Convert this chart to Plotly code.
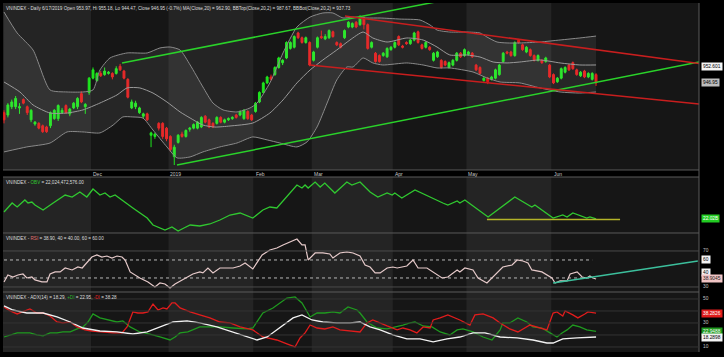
import plotly.graph_objects as go

# ---------------- data ----------------
opens = [922, 920, 927, 927, 926, 933, 927, 916, 912.5, 913, 911, 910, 911, 917, 917, 922, 928, 921, 926, 927,
         938, 927, 939, 951, 949, 955, 954, 955, 955, 955, 961, 957, 950, 926, 927, 922, 919, 921, 903, 902,
         913, 913, 909, 902, 885, 897, 904, 902, 908, 909, 909, 910, 919, 916, 913, 913, 918, 914, 916, 917,
         920, 920, 917, 923, 920, 923, 931, 939, 947, 952, 954, 960, 964, 968, 976, 977, 989, 985, 981, 981,
         966, 977, 986, 984, 985, 990, 981, 980, 985, 994, 994, 998, 996, 1002, 996, 977, 972, 970, 970, 969,
         975, 977, 986, 978, 981, 980, 983, 990, 979, 977, 977, 966, 969, 966, 965, 960, 962, 966, 972, 970,
         971, 972, 962, 960, 949, 951, 950, 951, 954, 965, 973, 973, 970, 983, 979, 973, 975, 970, 966, 966,
         965, 962, 954, 948, 951, 956, 962, 964, 958, 953, 957, 952, 950, 953.97]
highs = [924, 930, 933, 936, 930, 934, 928, 925, 915, 914, 912, 911, 923, 925, 929, 926, 929, 926, 931, 935,
         940, 930, 952, 960, 956, 957, 960, 957, 956, 961, 963, 958, 951, 933, 932, 927, 922, 922, 906, 905,
         914, 914, 910, 903, 895, 904, 906, 908, 910, 913, 915, 919, 920, 917, 914, 919, 919, 917, 918, 919,
         921, 924, 925, 924, 921, 931, 940, 948, 953, 954, 961, 969, 967, 982, 982, 987, 990, 986, 986, 982,
         974, 986, 991, 988, 992, 991, 982, 981, 992, 999, 998, 999, 1004, 1003, 997, 982, 973, 971, 973, 977,
         978, 982, 987, 979, 982, 984, 990, 991, 980, 982, 978, 973, 974, 967, 966, 965, 967, 973, 973, 976,
         974, 973, 963, 961, 952, 952, 953, 959, 963, 973, 974, 974, 982, 984, 980, 978, 976, 971, 971, 967,
         969, 963, 955, 952, 960, 961, 963, 965, 959, 957, 958, 956, 956, 955.18]
lows = [913, 918, 925, 925, 921, 929, 920, 914, 911, 908, 905, 905, 909, 916, 915, 921, 921, 919, 925, 925,
        930, 921, 937, 950, 948, 952, 953, 954, 950, 954, 957, 950, 934, 925, 925, 921, 917, 915, 893, 900,
        907, 900, 898, 889, 878, 896, 901, 901, 906, 908, 908, 909, 913, 909, 909, 912, 913, 913, 915, 916,
        917, 919, 916, 916, 915, 922, 930, 938, 946, 949, 953, 959, 962, 967, 975, 976, 984, 980, 980, 961,
        965, 976, 984, 983, 984, 985, 978, 976, 984, 993, 993, 993, 995, 992, 975, 976, 964, 964, 969, 968,
        974, 976, 978, 976, 979, 979, 982, 980, 975, 976, 974, 965, 968, 959, 961, 959, 961, 965, 968, 969,
        970, 968, 957, 954, 948, 946, 949, 950, 953, 964, 971, 969, 969, 980, 974, 972, 969, 965, 965, 963,
        964, 951, 946, 947, 950, 955, 957, 958, 953, 952, 951, 951, 949, 944.47]
closes = [916, 928.5, 931, 934, 927, 930, 922, 924, 914, 909, 906, 906, 922, 924, 928, 924, 922, 925, 930, 934,
          931, 929, 951, 958, 955, 953, 957, 956, 952, 959, 958, 951, 935, 931, 930, 926, 921, 916, 905, 904,
          909, 902, 900, 891, 893, 903, 902, 907, 909, 912, 914, 918, 914, 910, 910, 918, 914, 916, 917, 918,
          918, 923, 924, 917, 916, 930, 939, 947, 952, 950, 960, 968, 966, 981, 981, 986, 985, 981, 985, 962,
          973, 985, 985, 986, 991, 986, 979, 977, 991, 998, 997, 994, 1002, 996, 976, 981, 965, 965, 972, 976,
          977, 981, 979, 977, 980, 983, 989, 981, 976, 981, 975, 972, 973, 960, 962, 964, 966, 972, 969, 975,
          973, 969, 958, 955, 951, 948, 952, 958, 962, 972, 972, 970, 981, 981, 975, 977, 970, 966, 970, 964,
          968, 952, 947, 951, 959, 960, 958, 959, 954, 956, 952, 955, 955, 946.95]
bar_idx = list(range(len(closes)))

# Bollinger bands
bb_up_x = [0, 3.4, 7.5, 11.9, 16.3, 20.4, 23, 24.8, 27.4, 31.8, 37, 40.3, 42.9, 45.5, 48.1, 51.4, 54, 56.6, 60.2,
           63.6, 65.4, 68.7, 72.1, 75.7, 79.1, 82.4, 85, 87.6, 90.2, 93.8, 97.2, 102.3, 107.5, 110.1, 111.9,
           115.2, 119.6, 123, 124.8, 127.4, 130, 133.3, 138.5, 143.7, 148.8, 153]
bb_up_y = [1006.6, 989.0, 974.7, 941.1, 939.4, 939.4, 941.1, 957.9, 968.0, 972.2, 972.2, 976.4, 977.2, 974.7,
           962.1, 943.6, 930.1, 924.3, 922.6, 926.0, 930.1, 947.0, 972.2, 994.0, 1002.4, 1005.8, 1005.8, 1001.6,
           1002.4, 1001.6, 1001.6, 1000.7, 999.9, 995.7, 991.5, 989.8, 989.8, 989.0, 985.6, 981.4, 980.6, 980.6,
           981.4, 983.1, 984.8, 986.4]
bb_mid_x = [0, 4.1, 7.5, 11.9, 16.3, 20.4, 24.8, 29.2, 31.8, 35.1, 38.5, 42.1, 45.5, 48.1, 51.4, 54.5, 58.4, 64.3,
            68.7, 72.1, 75.7, 79.1, 82.4, 86, 89.4, 92.8, 95.3, 99, 104.1, 108.3, 111.9, 115.2, 119.6, 123,
            126.4, 130, 133.3, 138.5, 143.7, 148.8, 153]
bb_mid_y = [947.8, 939.4, 928.5, 921.7, 921.7, 924.3, 930.1, 936.9, 942.8, 942.8, 938.5, 931.0, 922.6, 917.5,
            911.6, 909.9, 910.8, 913.3, 921.7, 932.7, 947.0, 957.9, 966.3, 974.7, 983.1, 989.8, 984.8, 981.4,
            984.8, 983.1, 977.2, 970.5, 970.5, 968.8, 964.6, 963.8, 964.6, 966.3, 963.8, 962.1, 962.1]
bb_low_x = [0, 5.9, 11.9, 16.3, 20.4, 24.8, 28.2, 30.7, 33.3, 35.9, 38.5, 42.1, 44.7, 48.1, 51.4, 55.8, 60.2,
            64.3, 68, 71.3, 75.7, 78.3, 80.9, 83.5, 86, 88.6, 90.2, 92.8, 95.3, 97.9, 104.1, 108.3, 111.9, 115.2,
            121.2, 124.8, 128.2, 133.3, 138.5, 143.7, 148.8, 153]
bb_low_y = [889.0, 893.2, 896.5, 905.8, 905.8, 905.0, 911.6, 918.4, 918.4, 917.5, 907.4, 893.2, 884.0, 884.8,
            889.0, 893.2, 896.5, 901.6, 899.1, 896.5, 893.2, 897.4, 910.0, 930.1, 949.5, 960.4, 960.4, 968.0,
            963.8, 962.1, 963.8, 962.1, 959.6, 959.6, 956.2, 951.2, 947.8, 947.0, 942.8, 939.4, 938.5, 939.4]

# trend channels (start / end points)
green_up_x, green_up_y = [30.5, 111.4], [963.8, 1015.0]
green_low_x, green_low_y = [44.7, 179.6], [878.0, 964.6]
red_up_x, red_up_y = [88.1, 179.6], [1003.3, 963.3]
red_low_x, red_low_y = [79.0, 179.6], [962.1, 929.3]

# OBV (billions)
obv_x = [0, 2.1, 3.4, 5.4, 6.2, 7.2, 8, 10.1, 12.7, 15.8, 17.6, 19.6, 21.4, 23, 24.8, 26.1, 27.4, 28.7, 33.3, 37,
         38.5, 41.6, 43.4, 45, 46.5, 48.1, 50.6, 53.2, 55.8, 58.4, 61, 64.3, 66.9, 68.7, 70.5, 73.1, 75.7, 77,
         77.8, 78.6, 80.4, 81.7, 82.9, 85.5, 88.6, 89.9, 92, 94.6, 96.6, 99, 100.3, 101, 102.8, 106.2, 108.8,
         113.4, 114.7, 117.1, 117.8, 119.1, 125.1, 132, 136.4, 137.2, 141.9, 144.4, 145.5, 147, 150.6, 151.4, 153]
obv_y = [22.72, 23.62, 23.22, 23.92, 23.62, 23.72, 23.42, 22.92, 23.62, 24.42, 24.22, 24.72, 24.22, 25.02, 24.42,
         24.62, 24.22, 24.42, 23.12, 22.12, 21.42, 20.92, 21.22, 20.82, 21.12, 21.42, 21.32, 21.52, 21.92, 22.42,
         22.62, 22.12, 22.92, 23.22, 23.12, 24.22, 25.42, 25.12, 25.42, 25.12, 25.72, 25.22, 25.62, 24.62, 25.72,
         25.42, 25.72, 24.72, 24.22, 24.62, 24.42, 24.62, 24.12, 24.92, 24.42, 23.62, 23.42, 23.82, 23.62, 23.92,
         22.22, 24.22, 23.22, 23.42, 22.12, 22.42, 22.22, 22.62, 22.12, 22.22, 22.02]
obv_support_x, obv_support_y = [124.8, 159.2], [21.97, 21.97]

# RSI(14)
rsi_x = [0, 1, 2.3, 3.6, 4.9, 5.9, 7.2, 8, 9.8, 11.1, 11.9, 13.2, 14.5, 15.8, 17.6, 19.1, 20.2, 21.4, 22.7, 24,
         25.3, 26.6, 27.9, 29.2, 30.5, 31.3, 32.6, 35.1, 37.2, 39, 40.3, 41.6, 42.9, 44.2, 46, 47.3, 48.8, 50.6,
         51.4, 52.7, 54, 55.8, 57.6, 59.2, 61, 62.3, 64.3, 66.7, 68.7, 70.5, 72.1, 73.9, 75.7, 77, 77.8, 78.6,
         80.4, 82.4, 84.2, 85, 86.8, 88.6, 90.2, 92, 93.3, 94.6, 95.9, 97.2, 99, 100.5, 101.6, 104.1, 105.7, 107,
         109.3, 113.2, 114.7, 117.1, 117.8, 119.1, 121.2, 122.5, 124.8, 128.9, 131.3, 132.6, 134.1, 135.4, 136.4,
         139, 141.6, 142.4, 143.7, 145.5, 146.3, 148.1, 149.4, 150.6, 151.4, 152.2, 153]
rsi_y = [35.6, 43.3, 41.1, 43.3, 44.4, 40.0, 41.1, 37.8, 35.6, 35.6, 44.4, 46.7, 46.7, 51.1, 48.9, 52.2, 51.1,
         56.7, 63.3, 65.6, 63.3, 64.4, 62.2, 64.4, 63.3, 60.0, 46.7, 40.0, 35.6, 30.0, 34.4, 33.3, 28.9, 33.3,
         37.8, 41.1, 44.4, 46.7, 45.6, 51.1, 45.6, 51.1, 51.1, 51.1, 53.3, 56.7, 50.0, 65.6, 71.1, 73.3, 76.7,
         80.0, 83.3, 76.7, 76.7, 60.0, 67.8, 67.8, 66.7, 62.2, 67.8, 68.9, 67.8, 64.4, 54.4, 52.2, 45.6, 45.6,
         51.1, 52.2, 51.1, 53.3, 60.0, 51.1, 51.1, 40.0, 41.1, 48.9, 46.7, 51.1, 48.9, 40.0, 34.4, 52.2, 54.4,
         60.0, 58.9, 56.7, 48.9, 46.7, 40.0, 34.4, 36.7, 36.7, 44.4, 46.7, 41.1, 40.0, 42.2, 40.0, 38.9]
rsi_levels = [40, 60]
rsi_trend_x, rsi_trend_y = [141.9, 179.3], [34.4, 58.9]

# ADX(14), +DI, -DI
mdi_x = [0, 1.6, 3.4, 4.9, 6.7, 8.5, 10.1, 11.9, 13.7, 15.2, 17.1, 18.9, 20.9, 22.7, 24.8, 26.6, 28.2, 30.5, 31.8,
         33.3, 34.6, 35.9, 37.2, 38.5, 39.8, 41.1, 42.1, 43.4, 44.2, 45.5, 48.1, 50.6, 53.2, 55.8, 58.4, 61, 64.3,
         66.9, 70.5, 73.1, 75.2, 76.5, 77.8, 79.1, 80.9, 82.9, 85, 86.8, 89.4, 92, 93.8, 95.3, 99, 101.6, 103.1,
         104.9, 106.7, 108.3, 110.1, 110.9, 112.7, 114.7, 117.8, 120.4, 121.7, 123.8, 126.4, 128.2, 130.7, 132.8,
         135.9, 138.5, 140.3, 141.9, 142.9, 144.4, 145, 147, 148.3, 150.1, 150.9, 153]
mdi_y = [43.3, 40.0, 37.5, 39.2, 41.7, 38.3, 38.3, 35.8, 30.8, 30.0, 30.8, 26.7, 24.2, 23.3, 22.5, 21.7, 21.7, 21.7,
         26.7, 39.2, 38.3, 38.3, 39.2, 45.8, 40.8, 42.5, 41.7, 46.7, 46.7, 42.5, 39.2, 36.7, 34.2, 30.8, 30.0, 26.7,
         24.2, 18.3, 15.8, 12.5, 10.0, 17.5, 21.7, 28.3, 25.8, 25.0, 26.7, 24.2, 23.3, 22.5, 30.0, 32.5, 27.5, 24.2,
         25.8, 24.2, 21.7, 26.7, 25.8, 32.5, 34.2, 36.7, 32.5, 28.3, 36.7, 37.5, 34.2, 30.0, 25.0, 22.5, 28.3, 25.8,
         24.2, 38.3, 39.2, 35.8, 40.0, 36.7, 34.2, 37.5, 39.2, 38.28]
pdi_x = [0, 1.6, 3.4, 4.9, 6.7, 8.5, 10.1, 11.9, 13.7, 15.2, 17.1, 18.9, 20.4, 21.7, 23, 24.8, 27.4, 29.2, 30.7,
         32.6, 35.1, 37.7, 40.3, 42.9, 44.2, 45.5, 47.5, 50.6, 53.2, 55.8, 59.2, 62.8, 64.3, 66.9, 69.5, 71.3,
         73.1, 75.2, 77, 79.1, 80.9, 82.9, 85, 86.8, 88.9, 91.2, 92, 93.8, 96.4, 99, 101.6, 103.1, 104.9, 106.2,
         108.3, 110.6, 112.7, 115.2, 117.1, 118.6, 121.2, 123.8, 126.1, 128.2, 128.9, 130.7, 132.8, 135.1, 136.7,
         139, 141.1, 142.9, 144.2, 145.5, 147, 148.8, 150.6, 153]
pdi_y = [18.3, 20.0, 21.7, 21.7, 21.7, 20.0, 19.2, 21.7, 21.7, 22.5, 22.5, 25.0, 26.7, 30.8, 37.5, 34.2, 32.5, 30.8,
         31.7, 26.7, 22.5, 20.8, 18.3, 15.8, 18.3, 21.7, 22.5, 26.7, 26.7, 26.7, 25.8, 25.0, 25.8, 38.3, 42.5, 46.7,
         50.8, 51.7, 46.7, 35.0, 38.3, 38.3, 39.2, 38.3, 43.3, 40.8, 38.3, 30.8, 25.8, 25.0, 26.7, 28.3, 30.0, 30.8,
         27.5, 26.7, 22.5, 20.0, 24.2, 25.0, 22.5, 18.3, 15.8, 24.2, 30.0, 30.0, 34.2, 30.8, 26.7, 25.8, 21.7, 18.3,
         21.7, 24.2, 28.3, 26.7, 24.2, 22.95]
adx_x = [0, 2.3, 5.9, 10.1, 13.7, 17.1, 20.4, 24.8, 29.2, 33.3, 37, 40.3, 43.7, 47.3, 50.6, 55, 59.2, 62.8, 65.4, 68,
         71.3, 74.7, 77, 79.6, 82.4, 86, 89.4, 92, 94.6, 97.2, 100.5, 104.1, 107.5, 110.9, 114.5, 117.8, 121.2,
         124.3, 128.2, 132.6, 136.7, 140.3, 141.9, 144.4, 148.1, 153]
adx_y = [44.2, 40.8, 38.3, 38.3, 35.0, 30.8, 25.8, 23.3, 22.5, 20.8, 22.5, 26.7, 30.8, 31.7, 30.0, 26.7, 22.5, 18.3,
         15.8, 18.3, 25.8, 34.2, 36.7, 32.5, 30.8, 30.0, 30.0, 30.8, 26.7, 24.2, 20.0, 16.7, 16.7, 14.2, 16.7, 18.3,
         21.7, 21.7, 18.3, 17.5, 15.8, 13.3, 13.3, 16.7, 17.5, 18.29]
adx_grid = [10, 20, 30, 40, 50]

months = ["Dec", "2019", "Feb", "Mar", "Apr", "May", "Jun"]
month_starts = [23, 43, 65, 80, 101, 120, 142]

# ---------------- figure ----------------
X_RANGE = [-0.26, 179.6]
D_PRICE = [0.5215, 1.0]
D_OBV = [0.341, 0.5014]
D_RSI = [0.1719, 0.341]
D_ADX = [0.0, 0.1719]

fig = go.Figure()

# Bollinger bands
fig.add_trace(go.Scatter(x=bb_up_x, y=bb_up_y, mode="lines", line=dict(color="#8a8a8a", width=1, shape="spline", smoothing=0.6),
                         hoverinfo="skip", yaxis="y"))
fig.add_trace(go.Scatter(x=bb_low_x, y=bb_low_y, mode="lines", line=dict(color="#8a8a8a", width=1, shape="spline", smoothing=0.6),
                         fill="tonexty", fillcolor="rgba(255,255,255,0.07)", hoverinfo="skip", yaxis="y"))
fig.add_trace(go.Scatter(x=bb_mid_x, y=bb_mid_y, mode="lines", line=dict(color="#9a9a9a", width=1, shape="spline", smoothing=0.6),
                         hoverinfo="skip", yaxis="y"))

# channels
for cx, cy, col in [(green_up_x, green_up_y, "#2ad22a"), (green_low_x, green_low_y, "#2ad22a"),
                    (red_up_x, red_up_y, "#c81e1e"), (red_low_x, red_low_y, "#c81e1e")]:
    fig.add_trace(go.Scatter(x=cx, y=cy, mode="lines", line=dict(color=col, width=1.5), hoverinfo="skip", yaxis="y"))

# candles
fig.add_trace(go.Candlestick(x=bar_idx, open=opens, high=highs, low=lows, close=closes,
                             increasing=dict(line=dict(color="#1ee61e", width=1), fillcolor="#1ee61e"),
                             decreasing=dict(line=dict(color="#e61a1a", width=1), fillcolor="#e61a1a"),
                             whiskerwidth=0, yaxis="y"))

# OBV
fig.add_trace(go.Scatter(x=obv_x, y=obv_y, mode="lines", line=dict(color="#30c830", width=1.3), yaxis="y2"))
fig.add_trace(go.Scatter(x=obv_support_x, y=obv_support_y, mode="lines", line=dict(color="#b4b428", width=1.5),
                         yaxis="y2"))

# RSI
for lv in rsi_levels:
    fig.add_trace(go.Scatter(x=[0, 152], y=[lv, lv], mode="lines", line=dict(color="#b8b8b8", width=1, dash="dot"),
                             yaxis="y3"))
fig.add_trace(go.Scatter(x=rsi_x, y=rsi_y, mode="lines", line=dict(color="#e6caca", width=1.2), yaxis="y3"))
fig.add_trace(go.Scatter(x=rsi_trend_x, y=rsi_trend_y, mode="lines", line=dict(color="#3cbf9c", width=1.5), yaxis="y3"))

# ADX
fig.add_trace(go.Scatter(x=pdi_x, y=pdi_y, mode="lines", line=dict(color="#1f9a1f", width=1.3), yaxis="y4"))
fig.add_trace(go.Scatter(x=mdi_x, y=mdi_y, mode="lines", line=dict(color="#e01c1c", width=1.3), yaxis="y4"))
fig.add_trace(go.Scatter(x=adx_x, y=adx_y, mode="lines", line=dict(color="#f2f2f2", width=1.3), yaxis="y4"))

shapes = []
# month shading
bounds = [X_RANGE[0]] + [m - 0.5 for m in month_starts] + [X_RANGE[1]]
for k in range(len(bounds) - 1):
    col = "#242424" if k % 2 == 0 else "#161616"
    for d in (D_PRICE, [D_ADX[0], D_OBV[1]]):
        shapes.append(dict(type="rect", xref="x", yref="paper", x0=bounds[k], x1=bounds[k + 1], y0=d[0], y1=d[1],
                           fillcolor=col, line=dict(width=0), layer="below"))
# pane separators
for yy in [D_PRICE[0], D_OBV[1], D_OBV[0], D_RSI[0]]:
    shapes.append(dict(type="line", xref="paper", yref="paper", x0=0, x1=1, y0=yy, y1=yy,
                       line=dict(color="#5a5a5a", width=1)))
shapes.append(dict(type="line", xref="paper", yref="paper", x0=1, x1=1, y0=0, y1=1,
                   line=dict(color="#5a5a5a", width=1)))
# RSI 70/30 lines
for lv in [70, 30]:
    shapes.append(dict(type="line", xref="paper", yref="y3", x0=0, x1=1, y0=lv, y1=lv,
                       line=dict(color="#4a4a4a", width=1)))
for lv in adx_grid:
    shapes.append(dict(type="line", xref="paper", yref="y4", x0=0, x1=1, y0=lv, y1=lv,
                       line=dict(color="#333333", width=1)))

FONT = "Arial"
ann = []
def title(text, ytop):
    ann.append(dict(text=text, xref="paper", yref="paper", x=0, y=ytop, xanchor="left", yanchor="top",
                    showarrow=False, font=dict(family=FONT, size=4.6, color="#dcdcdc"), xshift=1, yshift=-1))

title("VNINDEX - Daily 6/17/2019 Open 953.97, Hi 955.18, Lo 944.47, Close 946.95 (-0.7%) MA(Close,20) = 962.90, "
      "BBTop(Close,20,2) = 987.67, BBBot(Close,20,2) = 937.73", D_PRICE[1])
title("VNINDEX - <span style='color:#30c830'>OBV</span> = 22,024,472,576.00", D_OBV[1])
title("VNINDEX - <span style='color:#e07070'>RSI</span> = 38.90, 40 = 40.00, 60 = 60.00", D_RSI[1])
title("VNINDEX - ADX(14) = 18.29, <span style='color:#2ab02a'>+DI</span> = 22.95, "
      "<span style='color:#e02020'>-DI</span> = 38.28", D_ADX[1])

for m, s in zip(months, month_starts):
    ann.append(dict(text=m, xref="x", yref="paper", x=s - 0.5, y=(D_PRICE[0] + D_OBV[1]) / 2, xanchor="left",
                    yanchor="middle", showarrow=False, font=dict(family=FONT, size=5, color="#c8c8c8")))

def rlabel(text, yref, y, bg=None, fg="#c0c0c0", yshift=0):
    d = dict(text=text, xref="paper", yref=yref, x=1, y=y, xanchor="left", yanchor="middle", showarrow=False,
             xshift=2, yshift=yshift, font=dict(family=FONT, size=4.8, color=fg))
    if bg:
        d.update(bgcolor=bg, borderpad=1)
    ann.append(d)

rlabel("952.601", "y", 960.4, bg="#f4f4f4", fg="#000000")
rlabel("946.95", "y", 946.95, bg="#bdbdbd", fg="#000000")
rlabel("22.02B", "y2", 22.02, bg="#22cc22", fg="#ffffff")
rlabel("70", "y3", 70)
rlabel("60", "y3", 60, bg="#f4f4f4", fg="#000000")
rlabel("40", "y3", 40, bg="#f4f4f4", fg="#000000", yshift=5)
rlabel("38.9045", "y3", 38.9, bg="#f0c4c4", fg="#202020")
rlabel("30", "y3", 30)
rlabel("50", "y4", 50)
rlabel("38.2826", "y4", 38.28, bg="#e01c1c", fg="#ffffff")
rlabel("30", "y4", 30)
rlabel("22.9488", "y4", 22.95, bg="#1f9a1f", fg="#ffffff")
rlabel("18.2898", "y4", 18.29, bg="#f4f4f4", fg="#000000")
rlabel("10", "y4", 10)

hidden = dict(showticklabels=False, showgrid=False, zeroline=False, showline=False, ticks="", fixedrange=True)
fig.update_layout(
    width=724, height=357, margin=dict(l=3, r=25, t=3, b=5),
    paper_bgcolor="#000000", plot_bgcolor="#161616", showlegend=False,
    xaxis=dict(range=X_RANGE, rangeslider=dict(visible=False), anchor="y4", **hidden),
    yaxis=dict(domain=D_PRICE, range=[873.8, 1014.2], anchor="x", **hidden),
    yaxis2=dict(domain=D_OBV, range=[20.62, 26.22], anchor="x", **hidden),
    yaxis3=dict(domain=D_RSI, range=[24.4, 90], anchor="x", **hidden),
    yaxis4=dict(domain=D_ADX, range=[5.8, 55.8], anchor="x", **hidden),
    shapes=shapes, annotations=ann,
)
fig.write_html("out.html", config={"displayModeBar": False},
               post_script="document.body.style.margin='0';document.body.style.padding='0';"
                           "document.body.style.background='#000';document.body.style.overflow='hidden';")
